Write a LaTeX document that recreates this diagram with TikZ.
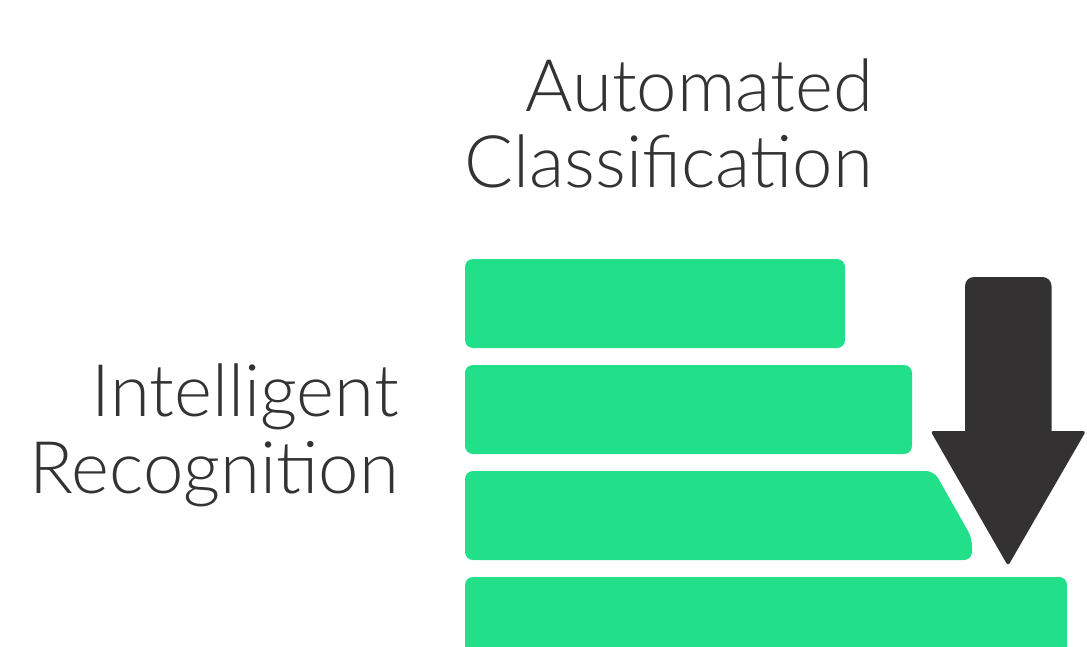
\documentclass[tikz,border=0pt]{standalone}
\usepackage{fontspec}
\IfFontExistsTF{Lato Light}{\setmainfont{Lato Light}}{\setmainfont{Lato}}
\definecolor{barGreen}{RGB}{34,223,137}
\definecolor{arrowDark}{RGB}{51,49,50}
\definecolor{textDark}{RGB}{51,51,51}
\tikzset{
  bar/.style={fill=barGreen, draw=none, rounded corners=8pt},
  label/.style={font=\fontsize{72.5}{77}\selectfont, text=textDark, inner sep=0pt, anchor=base east},
  downarrow/.style={fill=arrowDark, draw=none}
}
\begin{document}
\begin{tikzpicture}[x=1pt,y=-1pt]
\useasboundingbox (0,0) rectangle (1087,647);
% labels
\node[label] (auto) at (873,111.7) {Automated};
\node[label] (class) at (873,188) {Classification};
\node[label] (intel) at (399,416.7) {Intelligent};
\node[label] (recog) at (399,493) {Recognition};
% bars
\fill[bar] (465,259) rectangle (845,348);
\fill[bar] (465,365) rectangle (912,454);
\fill[bar] (465,471) -- (934,471) -- (972,538) -- (972,560) -- (465,560) -- cycle;
\fill[barGreen] (465,660) [rounded corners=8pt] -- (465,577) -- (1067,577) [sharp corners] -- (1067,660) -- cycle;
% arrow
\fill[downarrow] (965,431) [rounded corners=9pt] -- (965,277) -- (1051.5,277) [sharp corners] -- (1051.5,431)
  [rounded corners=3pt] -- (1086,431) -- (1008,566) -- (930.5,431) [sharp corners] -- cycle;
\end{tikzpicture}
\end{document}
